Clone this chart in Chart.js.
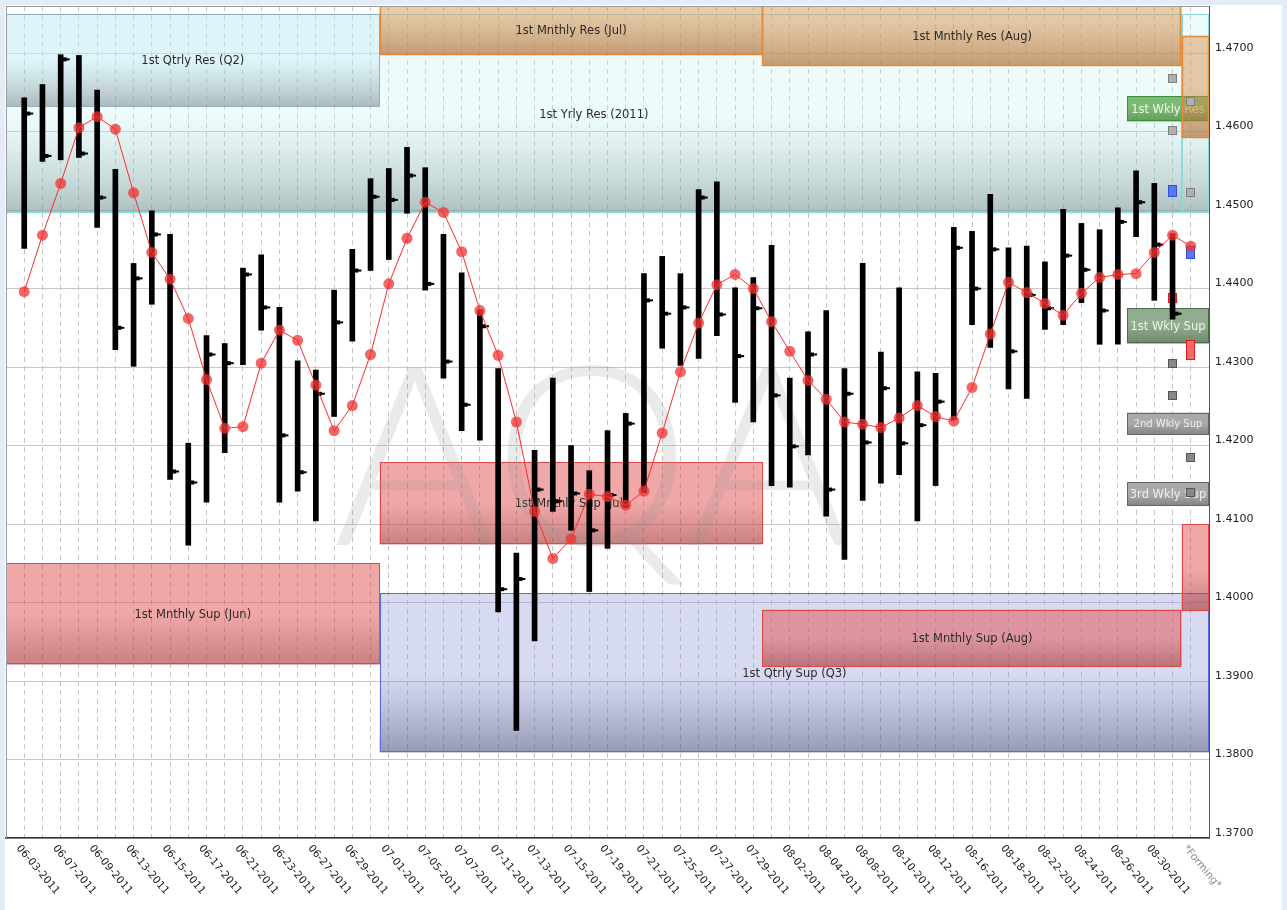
<!DOCTYPE html>
<html><head><meta charset="utf-8">
<script src="https://cdn.jsdelivr.net/npm/chart.js@4.4.1/dist/chart.umd.min.js"></script>
<style>html,body{margin:0;padding:0;background:#fff;overflow:hidden}canvas{display:block}</style>
</head><body>
<canvas id="c" width="1287" height="910"></canvas>
<script>
// ---------- DATA ----------
const categories = ["06-03-2011","06-06-2011","06-07-2011","06-08-2011","06-09-2011","06-10-2011","06-13-2011","06-14-2011","06-15-2011","06-16-2011",
"06-17-2011","06-20-2011","06-21-2011","06-22-2011","06-23-2011","06-24-2011","06-27-2011","06-28-2011","06-29-2011","06-30-2011",
"07-01-2011","07-04-2011","07-05-2011","07-06-2011","07-07-2011","07-08-2011","07-11-2011","07-12-2011","07-13-2011","07-14-2011",
"07-15-2011","07-18-2011","07-19-2011","07-20-2011","07-21-2011","07-22-2011","07-25-2011","07-26-2011","07-27-2011","07-28-2011",
"07-29-2011","08-01-2011","08-02-2011","08-03-2011","08-04-2011","08-05-2011","08-08-2011","08-09-2011","08-10-2011","08-11-2011",
"08-12-2011","08-15-2011","08-16-2011","08-17-2011","08-18-2011","08-19-2011","08-22-2011","08-23-2011","08-24-2011","08-25-2011",
"08-26-2011","08-29-2011","08-30-2011","08-31-2011","*Forming*"];

const highs = [1.4643,1.4660,1.4698,1.4697,1.4653,1.4552,1.4432,1.4499,1.4469,1.4203,
1.4340,1.4330,1.4426,1.4443,1.4376,1.4308,1.4296,1.4398,1.4450,1.4540,
1.4553,1.4580,1.4554,1.4469,1.4420,1.4373,1.4298,1.4063,1.4194,1.4286,
1.4200,1.4168,1.4219,1.4241,1.4419,1.4441,1.4419,1.4526,1.4536,1.4401,
1.4414,1.4455,1.4286,1.4345,1.4372,1.4298,1.4432,1.4319,1.4401,1.4294,
1.4292,1.4478,1.4473,1.4520,1.4452,1.4454,1.4434,1.4501,1.4483,1.4475,
1.4503,1.4550,1.4534,1.4470];

const lows = [1.4451,1.4562,1.4564,1.4567,1.4478,1.4322,1.4301,1.4380,1.4157,1.4073,
1.4128,1.4191,1.4303,1.4347,1.4128,1.4142,1.4104,1.4237,1.4333,1.4423,
1.4437,1.4496,1.4398,1.4286,1.4219,1.4207,1.3988,1.3837,1.3951,1.4116,
1.4092,1.4014,1.4069,1.4121,1.4140,1.4324,1.4302,1.4311,1.4340,1.4255,
1.4230,1.4149,1.4147,1.4188,1.4110,1.4055,1.4130,1.4152,1.4163,1.4104,
1.4149,1.4233,1.4354,1.4325,1.4272,1.4260,1.4348,1.4354,1.4382,1.4329,
1.4329,1.4466,1.4385,1.4361];

const closes = [1.4623,1.4569,1.4692,1.4572,1.4516,1.4350,1.4413,1.4469,1.4167,1.4153,
1.4316,1.4305,1.4418,1.4376,1.4213,1.4166,1.4266,1.4357,1.4423,1.4517,
1.4513,1.4544,1.4406,1.4307,1.4252,1.4352,1.4017,1.4030,1.4144,1.4129,
1.4139,1.4092,1.4137,1.4228,1.4385,1.4368,1.4376,1.4516,1.4367,1.4314,
1.4375,1.4264,1.4199,1.4316,1.4144,1.4266,1.4204,1.4273,1.4203,1.4226,
1.4256,1.4452,1.4400,1.4450,1.4320,1.4392,1.4375,1.4442,1.4424,1.4372,
1.4485,1.4510,1.4456,1.4368];

const avgLine = [1.4396,1.4468,1.4534,1.4605,1.4619,1.4603,1.4522,1.4446,1.4412,1.4362,
1.4284,1.4222,1.4224,1.4305,1.4347,1.4334,1.4277,1.4219,1.4251,1.4316,
1.4406,1.4464,1.4510,1.4497,1.4447,1.4372,1.4315,1.4230,1.4116,1.4056,
1.4081,1.4138,1.4135,1.4124,1.4142,1.4216,1.4294,1.4356,1.4405,1.4418,
1.4400,1.4358,1.4320,1.4283,1.4259,1.4230,1.4227,1.4223,1.4235,1.4251,
1.4237,1.4231,1.4274,1.4342,1.4408,1.4395,1.4381,1.4366,1.4394,1.4414,
1.4418,1.4419,1.4446,1.4468,1.4454];

const yTicks = [1.37,1.38,1.39,1.40,1.41,1.42,1.43,1.44,1.45,1.46,1.47];

// support / resistance zones (category span, price span)
const zoneNames = ["1st Yrly Res (2011)","","1st Qtrly Res (Q2)","1st Mnthly Res (Jul)","1st Mnthly Res (Aug)",
                   "1st Mnthly Sup (Jun)","1st Qtrly Sup (Q3)","1st Mnthly Sup (Jul)","1st Mnthly Sup (Aug)",""];
const zoneKind  = ["yrlyRes","yrlyRes","qtrlyRes","mnthlyRes","mnthlyRes",
                   "mnthlySup","qtrlySup","mnthlySup","mnthlySup","mnthlySup"];
const zoneFrom  = [-1,63.5,-1,19.5,40.5,-1,19.5,19.5,40.5,63.5];
const zoneTo    = [63.5,65,19.5,40.5,63.5,19.5,65,40.5,63.5,65];
const zoneLow   = [1.4496,1.4496,1.4632,1.4698,1.4684,1.3921,1.3809,1.4074,1.3919,1.3989];
const zoneHigh  = [1.4750,1.4750,1.4750,1.4800,1.4800,1.4050,1.4012,1.4179,1.3991,1.4100];

// weekly levels
const wklyNames = ["1st Wkly Res","1st Wkly Sup","2nd Wkly Sup","3rd Wkly Sup"];
const wklyKind  = ["wRes","wSup1","wSup2","wSup3"];
const wklyFrom  = [60.5,60.5,60.5,60.5];
const wklyTo    = [65,65,65,65];
const wklyLow   = [1.4613,1.4330,1.4214,1.4123];
const wklyHigh  = [1.4645,1.4375,1.4242,1.4153];

// next month's resistance (drawn over the weekly level)
const sepResFrom = 63.5, sepResTo = 65, sepResLow = 1.4592, sepResHigh = 1.4722;

// pivot markers
const markerX    = [63,63,63,63,63,63,64,64,64,64,64,64];
const markerLow  = [1.4667,1.4601,1.4517,1.4381,1.4305,1.4264,1.4638,1.4522,1.4438,1.4308,1.4185,1.4140];
const markerHigh = [1.4667,1.4601,1.4532,1.4394,1.4305,1.4264,1.4638,1.4522,1.4454,1.4334,1.4185,1.4140];
const markerKind = ["hi","hi","blue","red","lo","lo","hi","hi","blue","red","lo","lo"];

// ---------- STYLES ----------
const FONT = '"DejaVu Sans", Verdana, sans-serif';
const zoneStyle = {
  yrlyRes:  {top:'rgba(200,245,245,0.30)', bot:'rgba(115,145,145,0.58)', line:'#8fdcdc', lw:1},
  qtrlyRes: {top:'rgba(185,228,240,0.32)', bot:'rgba(110,118,125,0.50)', line:'#8db0c3', lw:1},
  mnthlyRes:{top:'rgba(215,150,80,0.50)',  bot:'rgba(175,115,60,0.70)',  line:'#e08c3c', lw:1.5},
  mnthlySup:{top:'rgba(224,80,80,0.50)',   bot:'rgba(170,60,60,0.65)',   line:'#e04848', lw:1},
  qtrlySup: {top:'rgba(140,150,215,0.35)', bot:'rgba(85,90,135,0.62)',   line:'#5a6ad8', lw:1},
  wRes:  {top:'rgba(95,170,80,0.80)',  bot:'rgba(70,140,60,0.85)',  line:'#3f8f3a', text:'#eef6ec', size:11.5},
  wSup1: {top:'rgba(140,168,136,0.95)',bot:'rgba(100,128,96,0.95)', line:'#4d6b4a', text:'#eef2ee', size:11.5},
  wSup2: {top:'rgba(165,165,165,0.95)',bot:'rgba(125,125,125,0.95)',line:'#666',    text:'#eeeeee', size:10},
  wSup3: {top:'rgba(165,165,165,0.95)',bot:'rgba(125,125,125,0.95)',line:'#666',    text:'#eeeeee', size:11.5}
};
const markerStyle = {
  hi:  {fill:'#b0b0b0', line:'#808080'},
  lo:  {fill:'#888888', line:'#555555'},
  blue:{fill:'#5a78f0', line:'#2f4fd8'},
  red: {fill:'#f26a6a', line:'#e81c1c'}
};

function makeTick(){
  const c = document.createElement('canvas'); c.width = 26; c.height = 8;
  const g = c.getContext('2d'); g.fillStyle = '#000';
  g.fillRect(15,2,4,4); g.fillRect(19,3,3,2);
  return c;
}

function drawBox(ctx, x0, x1, yTop, yBot, st){
  const g = ctx.createLinearGradient(0, yTop, 0, yBot);
  g.addColorStop(0, st.top); g.addColorStop(0.5, st.top); g.addColorStop(1, st.bot);
  ctx.fillStyle = g;
  ctx.fillRect(x0, yTop, x1 - x0, yBot - yTop);
  ctx.strokeStyle = st.line; ctx.lineWidth = st.lw || 1;
  ctx.strokeRect(Math.round(x0)+0.5, Math.round(yTop)+0.5, Math.round(x1-x0)-1, Math.round(yBot-yTop)-1);
}

const zonesPlugin = {
  id: 'zones',
  beforeDraw(chart){
    const ctx = chart.ctx;
    ctx.save();
    ctx.fillStyle = '#fff'; ctx.fillRect(0,0,chart.width,chart.height);
    ctx.fillStyle = '#e4ecf8';
    ctx.fillRect(0,0,chart.width,5); ctx.fillRect(0,0,5,chart.height); ctx.fillRect(chart.width-5,0,5,chart.height);
    ctx.restore();
  },
  beforeDatasetsDraw(chart){
    const {ctx, chartArea:a, scales:{x, y}} = chart;
    ctx.save();
    ctx.beginPath(); ctx.rect(a.left, a.top, a.right - a.left, a.bottom - a.top); ctx.clip();
    ctx.textAlign = 'center'; ctx.textBaseline = 'middle';
    for (let i = 0; i < zoneNames.length; i++){
      const x0 = x.getPixelForValue(zoneFrom[i]), x1 = x.getPixelForValue(zoneTo[i]);
      const yT = y.getPixelForValue(zoneHigh[i]), yB = y.getPixelForValue(zoneLow[i]);
      drawBox(ctx, x0, x1, yT, yB, zoneStyle[zoneKind[i]]);
      if (zoneNames[i]){
        const vt = Math.max(yT, a.top), vb = Math.min(yB, a.bottom);
        ctx.fillStyle = '#2b2b2b'; ctx.font = '11.5px ' + FONT;
        ctx.fillText(zoneNames[i], (x0 + x1)/2, (vt + vb)/2 + 1);
      }
    }
    // watermark
    ctx.save();
    ctx.font = '300 250px Lato, "DejaVu Sans", sans-serif';
    ctx.fillStyle = 'rgba(150,150,150,0.20)';
    ctx.textAlign = 'center'; ctx.textBaseline = 'alphabetic';
    ctx.fillText('AQA', 592, 545);
    ctx.restore();
    // weekly levels
    for (let i = 0; i < wklyNames.length; i++){
      const st = zoneStyle[wklyKind[i]];
      const x0 = x.getPixelForValue(wklyFrom[i]), x1 = x.getPixelForValue(wklyTo[i]);
      const yT = y.getPixelForValue(wklyHigh[i]), yB = y.getPixelForValue(wklyLow[i]);
      drawBox(ctx, x0, x1, yT, yB, st);
      ctx.fillStyle = st.text; ctx.font = st.size + 'px ' + FONT;
      ctx.fillText(wklyNames[i], (x0 + Math.min(x1, a.right))/2, (yT + yB)/2 + 1);
    }
    // next month's resistance, over weekly box
    drawBox(ctx, x.getPixelForValue(sepResFrom), x.getPixelForValue(sepResTo),
            y.getPixelForValue(sepResHigh), y.getPixelForValue(sepResLow), zoneStyle.mnthlyRes);
    // markers
    for (let i = 0; i < markerX.length; i++){
      const st = markerStyle[markerKind[i]];
      const cx = x.getPixelForValue(markerX[i]);
      let yT = y.getPixelForValue(markerHigh[i]), yB = y.getPixelForValue(markerLow[i]);
      let w = 9;
      if (markerKind[i] === 'hi' || markerKind[i] === 'lo'){ const m = (yT + yB)/2; yT = m - 4.5; yB = m + 4.5; }
      ctx.fillStyle = st.fill; ctx.strokeStyle = st.line; ctx.lineWidth = 1;
      const xl = Math.round(cx - w/2);
      ctx.fillRect(xl, Math.round(yT), w, Math.round(yB - yT));
      ctx.strokeRect(xl + 0.5, Math.round(yT) + 0.5, w - 1, Math.round(yB - yT) - 1);
    }
    ctx.restore();
  },
  afterDraw(chart){
    const {ctx, chartArea:a, scales:{x}} = chart;
    ctx.save();
    ctx.strokeStyle = '#9a9a9a'; ctx.lineWidth = 1;
    ctx.beginPath(); ctx.moveTo(a.left + 0.5, a.top); ctx.lineTo(a.left + 0.5, a.bottom);
    ctx.moveTo(a.left, a.top + 0.5); ctx.lineTo(a.right, a.top + 0.5); ctx.stroke();
    ctx.font = '10.5px ' + FONT;
    ctx.textAlign = 'left'; ctx.textBaseline = 'top';
    for (let i = 0; i < categories.length; i += 2){
      const px = x.getPixelForValue(i);
      ctx.save();
      ctx.translate(px - 2, a.bottom + 5);
      ctx.rotate(50 * Math.PI / 180);
      ctx.fillStyle = i === categories.length - 1 ? '#8c8c8c' : '#222';
      ctx.fillText(categories[i], 0, 0);
      ctx.restore();
    }
    ctx.restore();
  }
};

const idx = categories.map((_, i) => i);
const tickImg = makeTick();

new Chart(document.getElementById('c'), {
  type: 'bar',
  data: {
    datasets: [
      {type:'line', order:0, data: avgLine.map((v,i)=>({x:idx[i], y:v})),
       borderColor:'#ff2b2b', borderWidth:1, tension:0,
       pointRadius:5.5, pointBackgroundColor:'rgba(240,50,50,0.75)', pointBorderWidth:0, pointHoverRadius:5.5},
      {type:'scatter', order:1, data: closes.map((v,i)=>({x:idx[i], y:v})),
       pointStyle: tickImg, pointRadius:5, showLine:false},
      {type:'bar', order:2, data: highs.map((h,i)=>({x:idx[i], y:[lows[i], h]})),
       backgroundColor:'#000', borderWidth:0, barThickness:5, grouped:false}
    ]
  },
  options: {
    responsive:false, animation:false, devicePixelRatio:1,
    layout:{padding:{left:5, top:5, right:0, bottom:0}},
    plugins:{legend:{display:false}, tooltip:{enabled:false}},
    scales:{
      x:{type:'linear', min:-1, max:65, offset:false,
         afterBuildTicks: s => { s.ticks = idx.map(v => ({value:v})); },
         afterFit: s => { s.height = 72; s.paddingLeft = 0; s.paddingRight = 0; },
         ticks:{display:false},
         grid:{color:'#c4c4c4', lineWidth:1, drawTicks:false, offset:false},
         border:{display:true, color:'#333', width:1.5, dash:[5,4]}},
      y:{type:'linear', position:'right', min:1.37, max:1.476,
         afterBuildTicks: s => { s.ticks = yTicks.map(v => ({value:v})); },
         afterFit: s => { s.width = 78; s.paddingTop = 0; s.paddingBottom = 0; },
         ticks:{callback: v => Number(v).toFixed(4), font:{family:'DejaVu Sans', size:11}, color:'#222', padding:6, labelOffset:-5},
         grid:{color:'#c8c8c8', lineWidth:1, drawTicks:false},
         border:{display:true, color:'#555', width:1}}
    }
  },
  plugins:[zonesPlugin]
});
</script>
</body></html>
